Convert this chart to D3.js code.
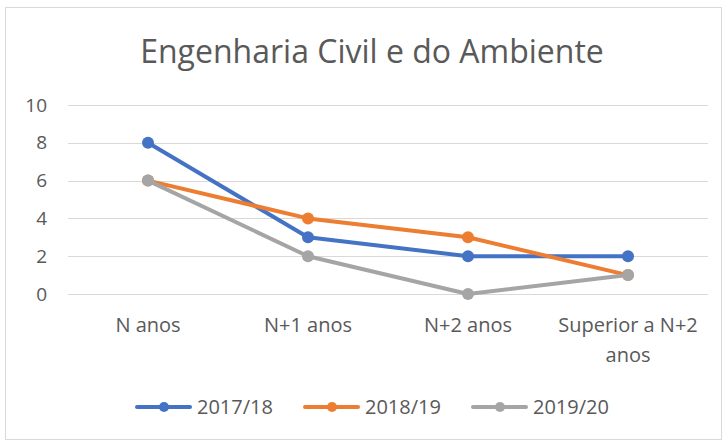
<!DOCTYPE html>
<html>
<head>
<meta charset="utf-8">
<script src="https://cdn.jsdelivr.net/npm/d3@7"></script>
<style>
  html, body { margin: 0; padding: 0; background: #fff; }
  svg { display: block; }
</style>
</head>
<body>
<svg id="chart" width="728" height="442"></svg>
<script>
const categories = ["N anos", "N+1 anos", "N+2 anos", "Superior a N+2 anos"];
const seriesNames = ["2017/18", "2018/19", "2019/20"];
const values2017 = [8, 3, 2, 2];
const values2018 = [6, 4, 3, 1];
const values2019 = [6, 2, 0, 1];
const yTicks = [0, 2, 4, 6, 8, 10];
const colors = ["#4472C4", "#ED7D31", "#A5A5A5"];

const series = [values2017, values2018, values2019].map((v, i) => ({
  name: seriesNames[i], values: v, color: colors[i]
}));

const FONT = "'Open Sans', sans-serif";
const TEXT = "#595959";

const svg = d3.select("#chart");

// chart frame
svg.append("rect")
  .attr("x", 5.5).attr("y", 7.5)
  .attr("width", 716).attr("height", 432)
  .attr("fill", "#fff").attr("stroke", "#D9D9D9").attr("stroke-width", 1);

// title
svg.append("text")
  .attr("x", 372).attr("y", 63)
  .attr("text-anchor", "middle")
  .attr("font-family", FONT)
  .attr("font-size", 32)
  .attr("fill", TEXT)
  .text("Engenharia Civil e do Ambiente");

const x = d3.scaleBand().domain(categories).range([68, 708]);
const y = d3.scaleLinear().domain([0, 10]).range([294, 105]);

// horizontal gridlines
svg.append("g").selectAll("line").data(yTicks).join("line")
  .attr("x1", 68).attr("x2", 708)
  .attr("y1", d => Math.round(y(d)) + 0.5).attr("y2", d => Math.round(y(d)) + 0.5)
  .attr("stroke", "#D9D9D9").attr("stroke-width", 1);

// y axis labels
const yAxis = d3.axisLeft(y).tickValues(yTicks).tickSize(0).tickPadding(0);
const gy = svg.append("g").attr("transform", "translate(47,0)").call(yAxis);
gy.select(".domain").remove();
gy.selectAll("text")
  .attr("text-anchor", "end")
  .attr("font-family", FONT)
  .attr("font-size", 19)
  .attr("fill", TEXT);

// x axis labels (last one wraps onto two lines)
const xAxis = d3.axisBottom(x).tickSize(0).tickPadding(0);
const gx = svg.append("g").attr("transform", "translate(0,332)").call(xAxis);
gx.select(".domain").remove();
gx.selectAll("text")
  .attr("font-family", FONT)
  .attr("font-size", 20)
  .attr("fill", TEXT)
  .attr("dy", null)
  .attr("y", 0)
  .each(function(d) {
    if (d === "Superior a N+2 anos") {
      const t = d3.select(this);
      t.text(null);
      t.append("tspan").attr("x", 0).attr("y", 0).text("Superior a N+2");
      t.append("tspan").attr("x", 0).attr("y", 30).text("anos");
    }
  });

const cx = d => x(d) + x.bandwidth() / 2;
const line = d3.line().x((d, i) => cx(categories[i])).y(d => y(d));

const gs = svg.append("g").selectAll("g").data(series).join("g");
gs.append("path")
  .attr("d", d => line(d.values))
  .attr("fill", "none")
  .attr("stroke", d => d.color)
  .attr("stroke-width", 4)
  .attr("stroke-linejoin", "round")
  .attr("stroke-linecap", "round");
gs.selectAll("circle").data(d => d.values.map((v, i) => ({ v, i, color: d.color }))).join("circle")
  .attr("cx", d => cx(categories[d.i]))
  .attr("cy", d => y(d.v))
  .attr("r", 6)
  .attr("fill", d => d.color);

// legend
const legendX = [137, 305, 473];
const lg = svg.append("g").selectAll("g").data(series).join("g")
  .attr("transform", (d, i) => `translate(${legendX[i]},407)`);
lg.append("line").attr("x1", 0).attr("x2", 53).attr("y1", 0).attr("y2", 0)
  .attr("stroke", d => d.color).attr("stroke-width", 4).attr("stroke-linecap", "round");
lg.append("circle").attr("cx", 27).attr("cy", 0).attr("r", 5).attr("fill", d => d.color);
lg.append("text").attr("x", 60).attr("y", 0).attr("dy", "0.35em")
  .attr("font-family", FONT)
  .attr("font-size", 20)
  .attr("fill", TEXT)
  .text(d => d.name);
</script>
</body>
</html>
